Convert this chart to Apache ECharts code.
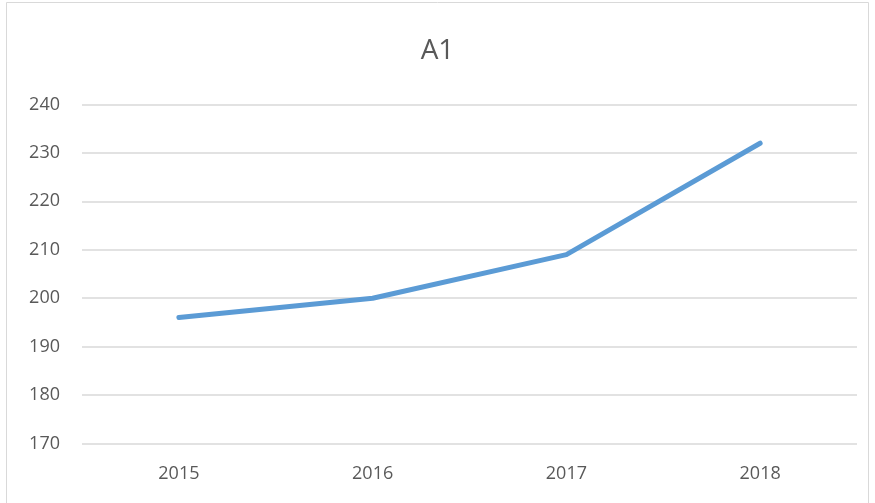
<!DOCTYPE html>
<html><head><meta charset="utf-8">
<script src="https://cdn.jsdelivr.net/npm/echarts@6/dist/echarts.min.js"></script>
<style>html,body{margin:0;padding:0;background:#fff}#c{width:875px;height:503px}</style>
</head><body><div id="c"></div>
<script>
const categories = ['2015', '2016', '2017', '2018'];
const values = [196, 200, 209, 232];
const titleText = 'A1';

const chart = echarts.init(document.getElementById('c'), null, {renderer: 'canvas'});
const font = "'Open Sans', 'Noto Sans', sans-serif";
chart.setOption({
  animation: false,
  backgroundColor: '#fff',
  title: {
    text: titleText, left: 'center', top: 32,
    textStyle: {fontFamily: font, fontSize: 28, fontWeight: 'normal', color: '#595959'}
  },
  graphic: [{
    type: 'rect', shape: {x: 6.5, y: 2.5, width: 862, height: 510},
    style: {fill: 'none', stroke: '#D9D9D9', lineWidth: 1}, silent: true
  }],
  grid: {left: 82, right: 18, top: 104.5, bottom: 59.5, containLabel: false},
  xAxis: {
    type: 'category', data: categories, boundaryGap: true,
    axisLine: {show: false}, axisTick: {show: false},
    axisLabel: {fontFamily: font, fontSize: 18, color: '#595959', margin: 21}
  },
  yAxis: {
    type: 'value', min: 170, max: 240, interval: 10,
    axisLine: {show: false}, axisTick: {show: false},
    splitLine: {lineStyle: {color: '#D9D9D9', width: 1.5}},
    axisLabel: {fontFamily: font, fontSize: 18, color: '#595959', margin: 22}
  },
  series: [{
    type: 'line', data: values, symbol: 'none',
    lineStyle: {color: '#5B9BD5', width: 5, cap: 'round', join: 'round'}
  }]
});
</script></body></html>
